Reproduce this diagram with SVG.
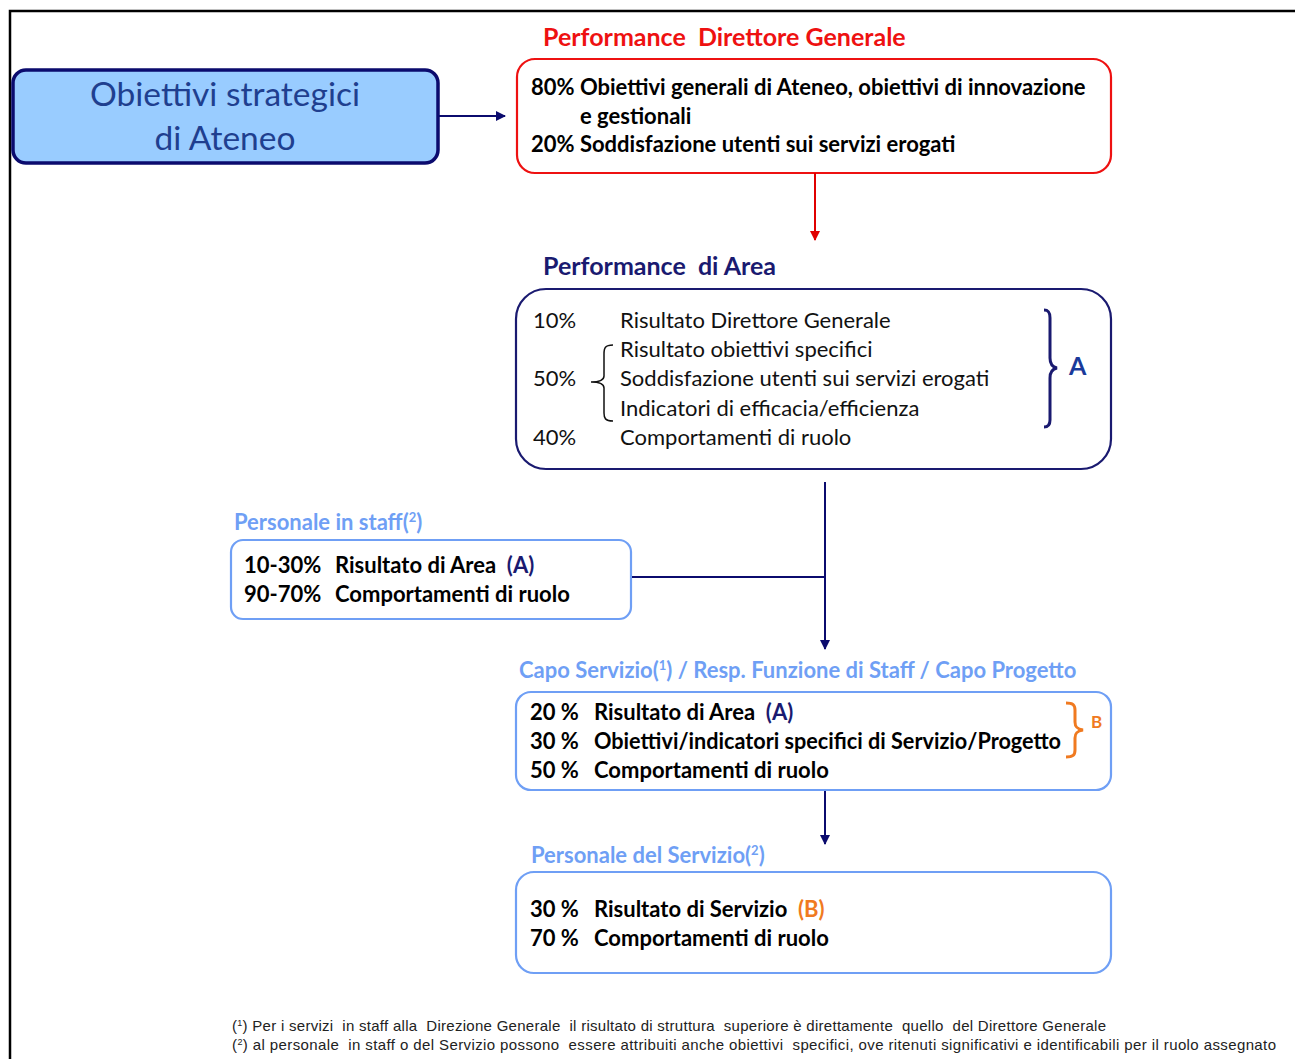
<svg xmlns="http://www.w3.org/2000/svg" width="1295" height="1059" viewBox="0 0 1295 1059">
<style>
text{font-family:Lato,"Open Sans","Liberation Sans",sans-serif;white-space:pre;}
.t{font-size:22px;fill:#000;font-weight:bold;}
.n{font-size:22px;fill:#111;}
.ti{font-size:25px;font-weight:bold;}
.lb{font-size:22px;fill:#6f9ff5;font-weight:bold;}
.box{fill:#fff;stroke-width:2.2;}
.fn{font-family:"Liberation Sans",Arial,sans-serif;font-size:15px;fill:#222;}
</style>
<defs>
<marker id="an" viewBox="0 0 10 10" refX="9" refY="5" markerWidth="5" markerHeight="5" orient="auto" markerUnits="strokeWidth"><path d="M0,0L10,5L0,10z" fill="#0b0b6e"/></marker>
<marker id="ar" viewBox="0 0 10 10" refX="9" refY="5" markerWidth="5" markerHeight="5" orient="auto" markerUnits="strokeWidth"><path d="M0,0L10,5L0,10z" fill="#e00000"/></marker>
</defs>
<rect width="1295" height="1059" fill="#fff"/>
<path d="M10,1059V11H1295" fill="none" stroke="#000" stroke-width="2.5"/>

<g id="obiettivi">
<rect x="13" y="70" width="425" height="93" rx="13" fill="#99ccff" stroke="#0b0b6e" stroke-width="3.5"/>
<text x="225" y="106" text-anchor="middle" font-size="33.5" fill="#1f3f8f">Obiettivi strategici</text>
<text x="225" y="150" text-anchor="middle" font-size="33.5" fill="#1f3f8f">di Ateneo</text>
</g>

<g id="dg">
<text class="ti" x="543" y="46" fill="#ee1111">Performance  Direttore Generale</text>
<rect class="box" x="517" y="59" width="594" height="114" rx="18" stroke="#ee1111"/>
<text class="t" x="531" y="95">80% Obiettivi generali di Ateneo, obiettivi di innovazione</text>
<text class="t" x="580" y="124">e gestionali</text>
<text class="t" x="531" y="152">20% Soddisfazione utenti sui servizi erogati</text>
</g>

<g id="area">
<text class="ti" x="543" y="275" fill="#1a1a70">Performance  di Area</text>
<rect class="box" x="516" y="289" width="595" height="180" rx="30" stroke="#1a1a70"/>
<text class="n" x="533" y="328">10%</text><text class="n" x="620" y="328">Risultato Direttore Generale</text>
<text class="n" x="620" y="357">Risultato obiettivi specifici</text>
<text class="n" x="533" y="386">50%</text><text class="n" x="620" y="386">Soddisfazione utenti sui servizi erogati</text>
<text class="n" x="620" y="416">Indicatori di efficacia/efficienza</text>
<text class="n" x="533" y="445">40%</text><text class="n" x="620" y="445">Comportamenti di ruolo</text>
<path d="M613,345C605,345 604,348 604,354V376C604,380 600,382 591,382C600,382 604,384 604,388V413C604,418 605,421 613,421" fill="none" stroke="#111" stroke-width="1.5"/>
<path d="M1044,310C1049,310 1050,313 1050,318V358C1050,363 1052,367 1057,368C1052,369 1050,373 1050,378V420C1050,424 1049,427 1044,427" fill="none" stroke="#1a1a70" stroke-width="3"/>
<text x="1069" y="375" font-size="25" font-weight="bold" fill="#1a3a9a">A</text>
</g>

<g id="staff">
<text class="lb" x="234" y="530">Personale in staff(<tspan font-size="13" dy="-8">2</tspan><tspan dy="8">)</tspan></text>
<rect class="box" x="231" y="540" width="400" height="79" rx="12" stroke="#6f9ff5"/>
<text class="t" x="244" y="573">10-30%</text><text class="t" x="335" y="573">Risultato di Area  <tspan fill="#1a1a70">(A)</tspan></text>
<text class="t" x="244" y="602">90-70%</text><text class="t" x="335" y="602">Comportamenti di ruolo</text>
</g>

<g id="capo">
<text class="lb" x="519" y="678">Capo Servizio(<tspan font-size="13" dy="-8">1</tspan><tspan dy="8">) / Resp. Funzione di Staff / Capo Progetto</tspan></text>
<rect class="box" x="516" y="692" width="595" height="98" rx="15" stroke="#6f9ff5"/>
<text class="t" x="530" y="720">20 %</text><text class="t" x="594" y="720">Risultato di Area  <tspan fill="#1a1a70">(A)</tspan></text>
<text class="t" x="530" y="749">30 %</text><text class="t" x="594" y="749" textLength="467" lengthAdjust="spacingAndGlyphs">Obiettivi/indicatori specifici di Servizio/Progetto</text>
<text class="t" x="530" y="778">50 %</text><text class="t" x="594" y="778">Comportamenti di ruolo</text>
<path d="M1066,703C1073,703 1075,705 1075,710V722C1075,727 1077,729 1083,730C1077,731 1075,733 1075,738V750C1075,755 1073,757 1066,757" fill="none" stroke="#f07a20" stroke-width="3"/>
<text x="1091" y="728" font-size="17" font-weight="bold" fill="#f07a20">B</text>
</g>

<g id="servizio">
<text class="lb" x="531" y="863">Personale del Servizio(<tspan font-size="13" dy="-8">2</tspan><tspan dy="8">)</tspan></text>
<rect class="box" x="516" y="872" width="595" height="101" rx="18" stroke="#6f9ff5"/>
<text class="t" x="530" y="917">30 %</text><text class="t" x="594" y="917">Risultato di Servizio  <tspan fill="#f07a20">(B)</tspan></text>
<text class="t" x="530" y="946">70 %</text><text class="t" x="594" y="946">Comportamenti di ruolo</text>
</g>

<g id="connectors" fill="none" stroke-width="2">
<line x1="439" y1="116" x2="505" y2="116" stroke="#0b0b6e" marker-end="url(#an)"/>
<line x1="815" y1="173" x2="815" y2="240" stroke="#e00000" marker-end="url(#ar)"/>
<line x1="825" y1="482" x2="825" y2="649" stroke="#0b0b6e" marker-end="url(#an)"/>
<line x1="632" y1="577" x2="825" y2="577" stroke="#0b0b6e"/>
<line x1="825" y1="791" x2="825" y2="844" stroke="#0b0b6e" marker-end="url(#an)"/>
</g>

<g id="footnotes">
<text class="fn" x="232" y="1031" textLength="874">(<tspan font-size="9" dy="-5">1</tspan><tspan dy="5">) Per i servizi  in staff alla  Direzione Generale  il risultato di struttura  superiore è direttamente  quello  del Direttore Generale</tspan></text>
<text class="fn" x="232" y="1050" textLength="1044">(<tspan font-size="9" dy="-5">2</tspan><tspan dy="5">) al personale  in staff o del Servizio possono  essere attribuiti anche obiettivi  specifici, ove ritenuti significativi e identificabili per il ruolo assegnato</tspan></text>
</g>
</svg>
